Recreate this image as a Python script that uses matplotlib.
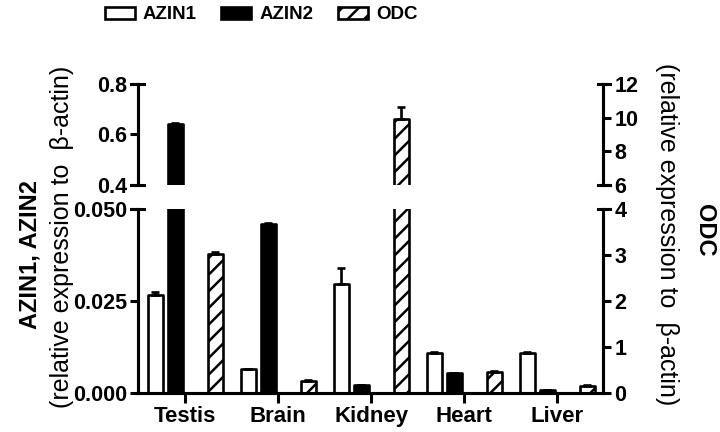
import matplotlib
matplotlib.use("Agg")
import matplotlib.pyplot as plt
import numpy as np
from matplotlib.patches import Patch

plt.rcParams["font.family"] = ["Liberation Sans", "DejaVu Sans"]
plt.rcParams["hatch.linewidth"] = 1.8

# --- datos --------------------------------------------------------------------
tejidos = ["Testis", "Brain", "Kidney", "Heart", "Liver"]
azin1 = [0.0268, 0.0065, 0.0296, 0.0110, 0.0110]
azin1_err = [0.0006, 0.0001, 0.0044, 0.0002, 0.0002]
azin2 = [0.640, 0.0460, 0.0022, 0.0055, 0.0009]
azin2_err = [0.004, 0.0002, 0.0001, 0.0001, 0.0001]
odc = [3.03, 0.27, 9.90, 0.47, 0.15]
odc_err = [0.04, 0.02, 0.75, 0.02, 0.02]

x = np.arange(len(tejidos))
ancho = 0.16
lw = 1.9

fig = plt.figure(figsize=(7.2, 4.32), dpi=100)
ax_lo = fig.add_axes([0.192, 0.0898, 0.6458, 0.426])
ax_up = fig.add_axes([0.192, 0.5718, 0.6458, 0.2338])
ax_lo_r = ax_lo.twinx()
ax_up_r = ax_up.twinx()


def barras(ax, axr):
    estilo = dict(width=ancho, edgecolor="black", linewidth=lw, joinstyle="round")
    err = dict(fmt="none", ecolor="black", elinewidth=lw, capsize=3, capthick=lw)
    ax.errorbar(x - 0.322, azin1, yerr=[np.zeros(5), azin1_err], **err)
    ax.bar(x - 0.322, azin1, color="white", **estilo)
    ax.errorbar(x - 0.107, azin2, yerr=[np.zeros(5), azin2_err], **err)
    ax.bar(x - 0.107, azin2, color="black", **estilo)
    axr.errorbar(x + 0.322, odc, yerr=[np.zeros(5), odc_err], **err)
    axr.bar(x + 0.322, odc, color="white", hatch="//", **estilo)


barras(ax_lo, ax_lo_r)
barras(ax_up, ax_up_r)

for ax in (ax_lo, ax_up, ax_lo_r, ax_up_r):
    ax.set_xlim(-0.505, 4.495)
    ax.spines["top"].set_visible(False)
    for s in ax.spines.values():
        s.set_linewidth(2.2)
    ax.tick_params(width=2.2, length=6, pad=2)

ax_lo.set_ylim(0, 0.05)
ax_lo.set_yticks([0.0, 0.025, 0.05])
ax_lo.set_yticklabels(["0.000", "0.025", "0.050"])
ax_lo_r.set_ylim(0, 4)
ax_lo_r.set_yticks([0, 1, 2, 3, 4])
ax_lo_r.set_yticklabels(["0", "1", "2", "3", "4"])
ax_up.set_ylim(0.4, 0.8)
ax_up.set_yticks([0.4, 0.6, 0.8])
ax_up.set_yticklabels(["0.4", "0.6", "0.8"])
ax_up_r.set_ylim(6, 12)
ax_up_r.set_yticks([6, 8, 10, 12])
ax_up_r.set_yticklabels(["6", "8", "10", "12"])
for ax in (ax_lo, ax_up, ax_lo_r, ax_up_r):
    for t in ax.get_yticklabels():
        t.set_fontweight("bold")
        t.set_fontsize(15.5)

ax_lo.set_xticks(x)
ax_lo.set_xticklabels(tejidos, fontsize=16, fontweight="bold")
ax_lo.tick_params(axis="x", length=7, pad=2)

for ax in (ax_up, ax_up_r):
    ax.spines["bottom"].set_visible(False)
    ax.tick_params(axis="x", bottom=False, labelbottom=False)
for ax in (ax_lo_r, ax_up_r):
    ax.tick_params(axis="x", bottom=False, labelbottom=False)

# marcas de corte en los extremos de los ejes
for ax, ys in ((ax_up, [0.4, 0.8]), (ax_lo, [0.05])):
    for y in ys:
        ax.plot([-0.015, 0.012], [y, y], color="black", lw=2.2,
                transform=ax.get_yaxis_transform(), clip_on=False)
for ax, ys in ((ax_up_r, [6, 12]), (ax_lo_r, [4])):
    for y in ys:
        ax.plot([0.988, 1.015], [y, y], color="black", lw=2.2,
                transform=ax.get_yaxis_transform(), clip_on=False)

# títulos de los ejes
fig.text(0.042, 0.412, "AZIN1, AZIN2", rotation=90, fontsize=17,
         fontweight="bold", ha="center", va="center")
fig.text(0.086, 0.451, "(relative expression to  \u03b2-actin)", rotation=90,
         fontsize=18, ha="center", va="center")
fig.text(0.979, 0.468, "ODC", rotation=270, fontsize=17,
         fontweight="bold", ha="center", va="center")
fig.text(0.926, 0.458, "(relative expression to  \u03b2-actin)", rotation=270,
         fontsize=18, ha="center", va="center")

# leyenda
handles = [
    Patch(facecolor="white", edgecolor="black", linewidth=lw),
    Patch(facecolor="black", edgecolor="black", linewidth=lw),
    Patch(facecolor="white", edgecolor="black", linewidth=lw, hatch="//"),
]
fig.legend(handles, ["AZIN1", "AZIN2", "ODC"], loc="center",
           bbox_to_anchor=(0.363, 0.966), ncol=3, frameon=False,
           prop={"weight": "bold", "size": 13.5},
           handlelength=1.6, handleheight=0.6, handletextpad=0.45,
           columnspacing=1.3)

fig.savefig("out.png", dpi=100)
